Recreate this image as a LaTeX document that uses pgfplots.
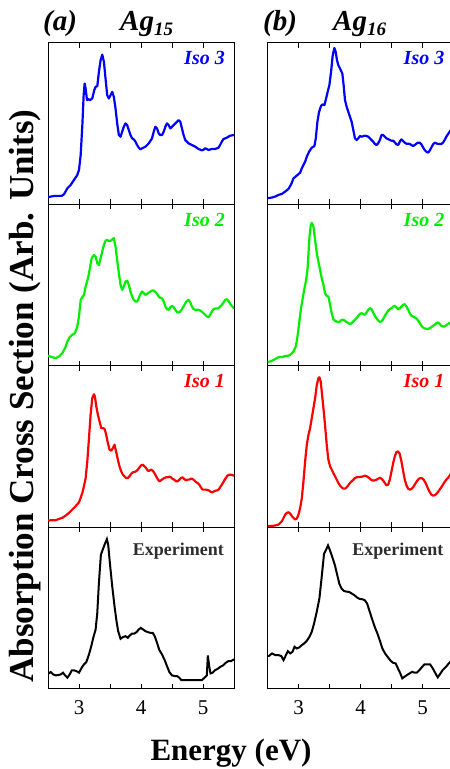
\documentclass[border=0pt]{standalone}
\usepackage{fontspec}
\setmainfont{Liberation Serif}
\usepackage{pgfplots}
\pgfplotsset{compat=1.18}
\definecolor{isoblue}{RGB}{0,0,255}
\definecolor{isogreen}{RGB}{0,238,0}
\definecolor{isored}{RGB}{255,0,0}
\definecolor{exptext}{RGB}{45,45,45}
\pgfplotsset{
  panel/.style={
    scale only axis, width=186pt, height=161.5pt,
    xmin=2.5, xmax=5.5, ymin=0, ymax=486,
    ytick=\empty, xtick={3,4,5}, minor xtick={3.5,4.5},
    xtick pos=both, tick align=inside,
    major tick length=5pt, minor tick length=5pt,
    tick style={black, line width=0.8pt},
    axis line style={line width=1pt},
    xticklabels={},
    anchor=south west,
  },
  bottomrow/.style={xticklabels={3,4,5}, xticklabel style={font=\fontsize{21}{21}\selectfont, yshift=-8pt}},
  curve/.style={line width=2.2pt, line join=round, line cap=round},
}
\newcommand{\isolab}[2]{\node[anchor=base east, inner sep=0pt, text=#1, font=\fontsize{20}{20}\selectfont\bfseries\itshape] at ([xshift=-9pt,yshift=-22pt]rel axis cs:1,1) {#2};}
\newcommand{\explab}{\node[anchor=base east, inner sep=0pt, text=exptext, font=\fontsize{18}{18}\selectfont\bfseries] at ([xshift=-10pt,yshift=-28pt]rel axis cs:1,1) {Experiment};}
\begin{document}
\begin{tikzpicture}[x=1pt,y=1pt]
% ---------- Row 1: Iso 3 ----------
\begin{axis}[panel, at={(48pt,564.5pt)}]
\addplot[curve, isoblue] coordinates {(2.507,22) (2.572,25) (2.652,26) (2.721,26) (2.759,31) (2.813,49) (2.866,59) (2.920,74) (2.973,89) (3.000,104) (3.027,149) (3.054,239) (3.075,329) (3.091,364) (3.107,349) (3.129,314) (3.150,317) (3.177,314) (3.214,319) (3.246,344) (3.268,354) (3.295,356) (3.321,399) (3.348,434) (3.375,451) (3.402,429) (3.428,379) (3.455,329) (3.482,319) (3.509,329) (3.536,339) (3.562,324) (3.589,289) (3.616,244) (3.643,209) (3.670,204) (3.696,219) (3.723,234) (3.750,244) (3.777,239) (3.803,224) (3.830,209) (3.857,199) (3.884,196) (3.911,189) (3.937,179) (3.964,171) (3.991,166) (4.018,169) (4.071,174) (4.125,184) (4.178,199) (4.205,219) (4.232,234) (4.259,229) (4.285,214) (4.312,209) (4.339,209) (4.366,219) (4.393,234) (4.419,244) (4.446,239) (4.473,229) (4.500,234) (4.527,239) (4.580,249) (4.607,254) (4.634,249) (4.660,229) (4.687,209) (4.714,194) (4.768,184) (4.821,179) (4.875,174) (4.928,167) (4.982,163) (5.009,165) (5.035,169) (5.062,167) (5.089,164) (5.142,167) (5.196,167) (5.250,171) (5.276,179) (5.303,189) (5.330,197) (5.384,201) (5.437,207) (5.496,209)};
\isolab{isoblue}{Iso 3}
\end{axis}
\begin{axis}[panel, at={(267.5pt,564.5pt)}]
\addplot[curve, isoblue] coordinates {(2.507,19) (2.572,21) (2.625,24) (2.679,29) (2.732,32) (2.786,39) (2.839,47) (2.882,61) (2.920,79) (2.973,87) (3.027,96) (3.054,109) (3.080,119) (3.107,129) (3.134,144) (3.171,159) (3.214,171) (3.257,176) (3.279,199) (3.305,249) (3.332,279) (3.364,297) (3.386,301) (3.418,299) (3.445,319) (3.471,339) (3.498,359) (3.525,399) (3.552,449) (3.578,471) (3.600,459) (3.621,434) (3.643,419) (3.675,407) (3.707,394) (3.728,359) (3.750,314) (3.777,294) (3.803,279) (3.830,264) (3.857,249) (3.884,224) (3.911,199) (3.937,194) (3.964,199) (3.991,206) (4.018,204) (4.071,207) (4.098,206) (4.125,204) (4.152,199) (4.178,194) (4.205,189) (4.232,182) (4.259,179) (4.285,184) (4.312,194) (4.339,209) (4.366,209) (4.393,204) (4.419,199) (4.446,197) (4.473,194) (4.500,192) (4.527,192) (4.553,187) (4.580,181) (4.607,179) (4.634,189) (4.660,196) (4.687,191) (4.714,186) (4.741,183) (4.768,183) (4.794,182) (4.821,179) (4.848,176) (4.875,179) (4.901,183) (4.928,186) (4.955,186) (4.982,181) (5.009,172) (5.035,164) (5.062,159) (5.089,156) (5.116,162) (5.142,171) (5.169,181) (5.196,186) (5.223,184) (5.250,182) (5.276,182) (5.303,182) (5.330,186) (5.357,194) (5.384,204) (5.437,219) (5.496,234)};
\isolab{isoblue}{Iso 3}
\end{axis}
% ---------- Row 2: Iso 2 ----------
\begin{axis}[panel, at={(48pt,403pt)}]
\addplot[curve, isogreen] coordinates {(2.507,31) (2.572,26) (2.625,24) (2.679,29) (2.732,39) (2.775,54) (2.813,74) (2.850,87) (2.893,94) (2.936,99) (2.973,119) (3.000,149) (3.027,199) (3.054,207) (3.080,214) (3.107,239) (3.145,264) (3.171,289) (3.204,324) (3.241,334) (3.268,329) (3.295,309) (3.321,304) (3.348,324) (3.375,344) (3.402,364) (3.428,377) (3.455,379) (3.482,376) (3.509,377) (3.536,381) (3.562,385) (3.589,359) (3.616,319) (3.643,279) (3.670,244) (3.696,229) (3.723,239) (3.750,254) (3.777,257) (3.803,244) (3.830,224) (3.857,209) (3.884,199) (3.911,194) (3.937,194) (3.964,204) (3.991,217) (4.018,224) (4.044,219) (4.071,214) (4.098,217) (4.125,221) (4.152,224) (4.178,227) (4.205,227) (4.232,223) (4.259,217) (4.285,209) (4.312,205) (4.339,204) (4.366,194) (4.393,179) (4.419,171) (4.446,169) (4.473,177) (4.500,181) (4.527,177) (4.553,169) (4.580,162) (4.607,161) (4.634,164) (4.660,171) (4.687,179) (4.714,189) (4.741,196) (4.768,199) (4.794,192) (4.821,179) (4.848,171) (4.875,169) (4.928,169) (4.955,167) (4.982,163) (5.009,159) (5.035,154) (5.062,149) (5.089,147) (5.116,154) (5.142,164) (5.169,171) (5.196,173) (5.223,173) (5.250,174) (5.276,179) (5.303,184) (5.330,191) (5.357,199) (5.384,201) (5.410,196) (5.437,187) (5.496,174)};
\isolab{isogreen}{Iso 2}
\end{axis}
\begin{axis}[panel, at={(267.5pt,403pt)}]
\addplot[curve, isogreen] coordinates {(2.507,11) (2.572,16) (2.625,21) (2.679,27) (2.732,27) (2.786,30) (2.839,31) (2.882,36) (2.920,44) (2.957,59) (2.984,89) (3.011,129) (3.037,169) (3.064,199) (3.091,229) (3.118,254) (3.145,289) (3.161,339) (3.177,389) (3.198,424) (3.214,431) (3.241,419) (3.268,379) (3.295,339) (3.321,314) (3.348,289) (3.375,264) (3.402,244) (3.428,219) (3.455,211) (3.482,209) (3.509,184) (3.536,159) (3.562,141) (3.589,136) (3.616,134) (3.643,132) (3.670,134) (3.696,139) (3.723,139) (3.750,136) (3.777,132) (3.803,129) (3.830,126) (3.857,129) (3.884,134) (3.911,139) (3.937,144) (3.964,151) (3.991,157) (4.018,159) (4.044,156) (4.071,154) (4.098,161) (4.125,169) (4.152,174) (4.178,171) (4.205,161) (4.232,151) (4.259,143) (4.285,137) (4.312,133) (4.339,134) (4.366,141) (4.393,151) (4.419,159) (4.446,167) (4.473,171) (4.500,174) (4.527,179) (4.553,181) (4.580,176) (4.607,171) (4.634,173) (4.660,179) (4.687,184) (4.714,186) (4.741,179) (4.768,169) (4.794,159) (4.821,151) (4.848,149) (4.875,146) (4.901,143) (4.928,137) (4.955,129) (4.982,121) (5.009,116) (5.035,113) (5.062,112) (5.089,111) (5.116,114) (5.142,117) (5.169,121) (5.196,124) (5.223,129) (5.250,131) (5.276,127) (5.303,121) (5.330,119) (5.357,119) (5.384,123) (5.437,129) (5.496,137)};
\isolab{isogreen}{Iso 2}
\end{axis}
% ---------- Row 3: Iso 1 ----------
\begin{axis}[panel, at={(48pt,241.5pt)}]
\addplot[curve, isored] coordinates {(2.507,21) (2.572,22) (2.625,22) (2.679,26) (2.732,29) (2.786,36) (2.839,44) (2.893,54) (2.946,64) (3.000,76) (3.027,89) (3.054,104) (3.080,124) (3.107,149) (3.134,199) (3.161,269) (3.187,339) (3.214,389) (3.241,401) (3.257,394) (3.279,364) (3.305,339) (3.332,319) (3.359,299) (3.386,299) (3.412,297) (3.439,279) (3.466,254) (3.493,234) (3.520,231) (3.546,239) (3.573,249) (3.600,227) (3.627,204) (3.653,184) (3.680,169) (3.707,159) (3.734,154) (3.761,149) (3.787,149) (3.814,154) (3.841,161) (3.868,166) (3.894,167) (3.921,169) (3.948,174) (3.975,181) (4.002,187) (4.028,189) (4.055,184) (4.082,179) (4.109,171) (4.136,171) (4.162,174) (4.189,171) (4.216,164) (4.243,154) (4.269,146) (4.296,139) (4.323,142) (4.350,146) (4.377,149) (4.403,151) (4.430,151) (4.457,153) (4.484,151) (4.510,146) (4.537,144) (4.564,139) (4.591,139) (4.618,144) (4.644,149) (4.671,151) (4.698,146) (4.725,142) (4.751,144) (4.778,144) (4.805,147) (4.832,146) (4.859,142) (4.885,137) (4.912,134) (4.939,129) (4.966,121) (4.992,114) (5.019,114) (5.046,114) (5.073,113) (5.100,111) (5.126,107) (5.153,106) (5.180,109) (5.207,111) (5.234,112) (5.260,116) (5.287,124) (5.314,132) (5.341,141) (5.368,149) (5.394,156) (5.421,159) (5.448,159) (5.496,156)};
\isolab{isored}{Iso 1}
\end{axis}
\begin{axis}[panel, at={(267.5pt,241.5pt)}]
\addplot[curve, isored] coordinates {(2.507,4) (2.572,5) (2.625,6) (2.679,9) (2.732,19) (2.759,29) (2.786,39) (2.813,44) (2.839,46) (2.866,42) (2.893,34) (2.920,29) (2.946,24) (2.973,27) (3.000,39) (3.027,59) (3.054,89) (3.080,139) (3.107,199) (3.134,249) (3.161,279) (3.187,299) (3.214,329) (3.241,359) (3.268,389) (3.295,429) (3.321,449) (3.337,452) (3.359,439) (3.375,409) (3.402,359) (3.428,309) (3.455,249) (3.482,204) (3.509,184) (3.536,174) (3.562,164) (3.589,154) (3.616,144) (3.643,134) (3.670,126) (3.696,121) (3.723,117) (3.750,117) (3.777,121) (3.803,127) (3.830,134) (3.857,139) (3.884,144) (3.911,149) (3.937,151) (3.964,152) (3.991,152) (4.018,153) (4.044,154) (4.071,156) (4.098,154) (4.125,151) (4.152,147) (4.178,143) (4.205,141) (4.232,142) (4.259,144) (4.285,147) (4.312,149) (4.339,147) (4.366,141) (4.393,134) (4.419,127) (4.446,129) (4.473,144) (4.500,169) (4.527,194) (4.553,214) (4.580,227) (4.607,229) (4.634,221) (4.660,199) (4.687,171) (4.714,144) (4.741,127) (4.768,117) (4.794,114) (4.821,116) (4.848,121) (4.875,129) (4.901,137) (4.928,144) (4.955,148) (4.982,149) (5.009,146) (5.035,139) (5.062,129) (5.089,117) (5.116,107) (5.142,99) (5.169,96) (5.196,97) (5.223,101) (5.250,107) (5.276,114) (5.303,121) (5.330,129) (5.357,137) (5.384,144) (5.410,149) (5.437,156) (5.496,174)};
\isolab{isored}{Iso 1}
\end{axis}
% ---------- Row 4: Experiment ----------
\begin{axis}[panel, bottomrow, at={(48pt,80pt)}]
\addplot[curve, black, line width=2pt, line join=miter] coordinates {(2.507,47) (2.545,51) (2.582,44) (2.625,41) (2.668,42) (2.705,44) (2.743,49) (2.775,41) (2.813,34) (2.850,44) (2.882,56) (2.920,56) (2.957,54) (3.000,49) (3.043,64) (3.080,74) (3.118,81) (3.161,104) (3.198,129) (3.230,154) (3.268,179) (3.295,229) (3.321,319) (3.353,404) (3.386,421) (3.418,437) (3.450,451) (3.471,434) (3.498,379) (3.536,309) (3.573,249) (3.605,204) (3.632,174) (3.670,151) (3.707,156) (3.750,159) (3.787,154) (3.819,161) (3.857,167) (3.894,167) (3.927,171) (3.964,179) (3.996,184) (4.034,179) (4.071,174) (4.114,171) (4.152,169) (4.189,169) (4.221,159) (4.259,139) (4.296,117) (4.339,104) (4.377,89) (4.419,69) (4.457,51) (4.500,41) (4.543,39) (4.580,39) (4.618,34) (4.650,27) (4.982,27) (5.025,34) (5.062,41) (5.078,101) (5.100,69) (5.121,47) (5.153,49) (5.196,57) (5.239,61) (5.282,67) (5.325,71) (5.368,79) (5.410,84) (5.453,84) (5.496,89)};
\explab
\end{axis}
\begin{axis}[panel, bottomrow, at={(267.5pt,80pt)}]
\addplot[curve, black, line width=2pt, line join=miter] coordinates {(2.519,99) (2.572,107) (2.626,102) (2.679,102) (2.722,99) (2.759,87) (2.797,102) (2.829,114) (2.866,107) (2.904,112) (2.936,127) (2.973,122) (3.011,125) (3.053,132) (3.091,137) (3.134,145) (3.176,157) (3.214,172) (3.251,197) (3.294,232) (3.337,272) (3.374,337) (3.412,407) (3.444,419) (3.476,432) (3.508,417) (3.545,397) (3.588,372) (3.626,342) (3.658,317) (3.695,302) (3.733,295) (3.775,293) (3.818,292) (3.861,287) (3.904,282) (3.947,275) (3.989,271) (4.032,270) (4.070,267) (4.107,257) (4.150,232) (4.193,207) (4.230,187) (4.273,167) (4.310,147) (4.353,122) (4.396,107) (4.444,95) (4.487,85) (4.524,79) (4.567,77) (4.604,62) (4.642,47) (4.674,32) (4.711,37) (4.749,42) (4.792,47) (4.834,52) (4.872,49) (4.909,49) (4.952,57) (4.995,67) (5.032,74) (5.075,74) (5.123,74) (5.166,62) (5.209,47) (5.246,35) (5.283,45) (5.326,57) (5.380,67) (5.433,79) (5.497,92)};
\explab
\end{axis}
% ---------- Titles and axis labels ----------
\node[anchor=base west, inner sep=0pt, font=\fontsize{29}{29}\selectfont\bfseries\itshape] at (43,738) {(a)};
\node[anchor=base west, inner sep=0pt, font=\fontsize{29}{29}\selectfont\bfseries\itshape] at (120,738) {Ag\raisebox{-5pt}{\fontsize{19}{19}\selectfont 15}};
\node[anchor=base west, inner sep=0pt, font=\fontsize{29}{29}\selectfont\bfseries\itshape] at (263,738) {(b)};
\node[anchor=base west, inner sep=0pt, font=\fontsize{29}{29}\selectfont\bfseries\itshape] at (333,738) {Ag\raisebox{-5pt}{\fontsize{19}{19}\selectfont 16}};
\node[anchor=base, inner sep=0pt, rotate=90, font=\fontsize{35}{35}\selectfont\bfseries] at (33,373) {Absorption Cross Section (Arb. Units)};
\node[anchor=base, inner sep=0pt, font=\fontsize{31}{31}\selectfont\bfseries] at (231,9) {Energy (eV)};
\pgfresetboundingbox
\useasboundingbox (0,0) rectangle (450,769);
\end{tikzpicture}
\end{document}
